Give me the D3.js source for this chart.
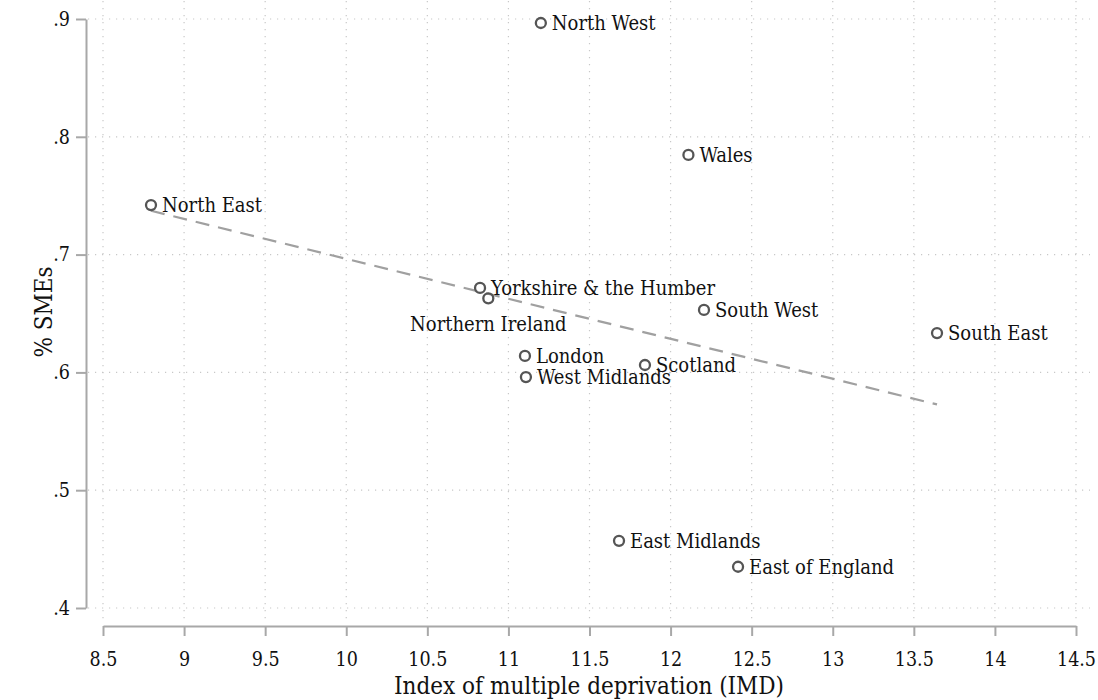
<!DOCTYPE html>
<html>
<head>
<meta charset="utf-8">
<script src="https://cdn.jsdelivr.net/npm/d3@7"></script>
<style>
  html, body { margin: 0; padding: 0; background: #fff; }
  svg { display: block; }
  text { font-family: "DejaVu Serif Condensed", "DejaVu Serif", serif; font-stretch: condensed; fill: #111; }
</style>
</head>
<body>
<svg id="chart" width="1098" height="700"></svg>
<script>
// UK regions: deprivation index vs share of SMEs
const regions = ["North West", "Wales", "North East", "Yorkshire & the Humber", "Northern Ireland",
                 "South West", "South East", "London", "Scotland", "West Midlands",
                 "East Midlands", "East of England"];
const imd  = [11.20, 12.11, 8.796, 10.825, 10.876, 12.206, 13.643, 11.102, 11.842, 11.108, 11.682, 12.416];
const smes = [0.8966, 0.7846, 0.742, 0.6717, 0.6629, 0.653, 0.6334, 0.614, 0.6063, 0.596, 0.457, 0.435];

const xTicks = [8.5, 9, 9.5, 10, 10.5, 11, 11.5, 12, 12.5, 13, 13.5, 14, 14.5];
const yTicks = [0.4, 0.5, 0.6, 0.7, 0.8, 0.9];

const xTitle = "Index of multiple deprivation (IMD)";
const yTitle = "% SMEs";

// labels placed under their marker instead of to the right
const labelBelow = new Set(["Northern Ireland"]);

const svg = d3.select("#chart");
const x = d3.scaleLinear().domain([8.5, 14.5]).range([103, 1076]);
const y = d3.scaleLinear().domain([0.4, 0.9]).range([608, 19]);

const gridColor = "#c8c8c8";
const axisColor = "#a8a8a8";
const fontStack = '"DejaVu Serif Condensed", "DejaVu Serif", serif';

// dotted grid
const grid = svg.append("g");
grid.selectAll("line.h").data(yTicks).join("line")
  .attr("x1", 88).attr("x2", 1090)
  .attr("y1", d => y(d)).attr("y2", d => y(d))
  .attr("stroke", gridColor).attr("stroke-width", 1.2)
  .attr("stroke-dasharray", "1.2,5.8");
grid.selectAll("line.v").data(xTicks).join("line")
  .attr("y1", 1).attr("y2", 621)
  .attr("x1", d => x(d)).attr("x2", d => x(d))
  .attr("stroke", gridColor).attr("stroke-width", 1.2)
  .attr("stroke-dasharray", "1.2,5.8");

const fmtY = d => d3.format(".1f")(d).replace(/^0/, "");

// axes
const xAxis = svg.append("g").attr("transform", "translate(0,626)")
  .call(d3.axisBottom(x).tickValues(xTicks).tickFormat(d => String(d)).tickSize(10).tickSizeOuter(0).tickPadding(16));
const yAxis = svg.append("g").attr("transform", "translate(86,0)")
  .call(d3.axisLeft(y).tickValues(yTicks).tickFormat(fmtY).tickSize(10).tickSizeOuter(0).tickPadding(6));

[xAxis, yAxis].forEach(g => {
  g.select(".domain").attr("stroke", axisColor).attr("stroke-width", 2);
  g.selectAll(".tick line").attr("stroke", axisColor).attr("stroke-width", 2);
  g.selectAll(".tick text").attr("fill", "#111")
    .style("font-family", fontStack)
    .style("font-size", "19.5px");
});

// axis titles
svg.append("text").attr("x", 589).attr("y", 694)
  .attr("text-anchor", "middle").style("font-size", "24px").text(xTitle);
svg.append("text").attr("transform", "translate(52,312) rotate(-90)")
  .attr("text-anchor", "middle").style("font-size", "24px").text(yTitle);

// least-squares fit over the observed range
const mx = d3.mean(imd), my = d3.mean(smes);
const sxy = d3.sum(imd, (v, i) => (v - mx) * (smes[i] - my));
const sxx = d3.sum(imd, v => (v - mx) * (v - mx));
const slope = sxy / sxx, intercept = my - slope * mx;
const [xMin, xMax] = d3.extent(imd);
svg.append("line")
  .attr("x1", x(xMin)).attr("y1", y(intercept + slope * xMin))
  .attr("x2", x(xMax)).attr("y2", y(intercept + slope * xMax))
  .attr("stroke", "#a0a0a0").attr("stroke-width", 2.2)
  .attr("stroke-dasharray", "14,9");

// markers and labels
const pts = regions.map((r, i) => ({ r, x: imd[i], y: smes[i] }));
svg.append("g").selectAll("circle").data(pts).join("circle")
  .attr("cx", d => x(d.x)).attr("cy", d => y(d.y)).attr("r", 5)
  .attr("fill", "none").attr("stroke", "#555").attr("stroke-width", 2.3);

svg.append("g").selectAll("text").data(pts).join("text")
  .attr("x", d => labelBelow.has(d.r) ? x(d.x) : x(d.x) + 11)
  .attr("y", d => labelBelow.has(d.r) ? y(d.y) + 25 : y(d.y))
  .attr("dy", "0.36em")
  .attr("text-anchor", d => labelBelow.has(d.r) ? "middle" : "start")
  .style("font-size", "20px")
  .text(d => d.r);
</script>
</body>
</html>
